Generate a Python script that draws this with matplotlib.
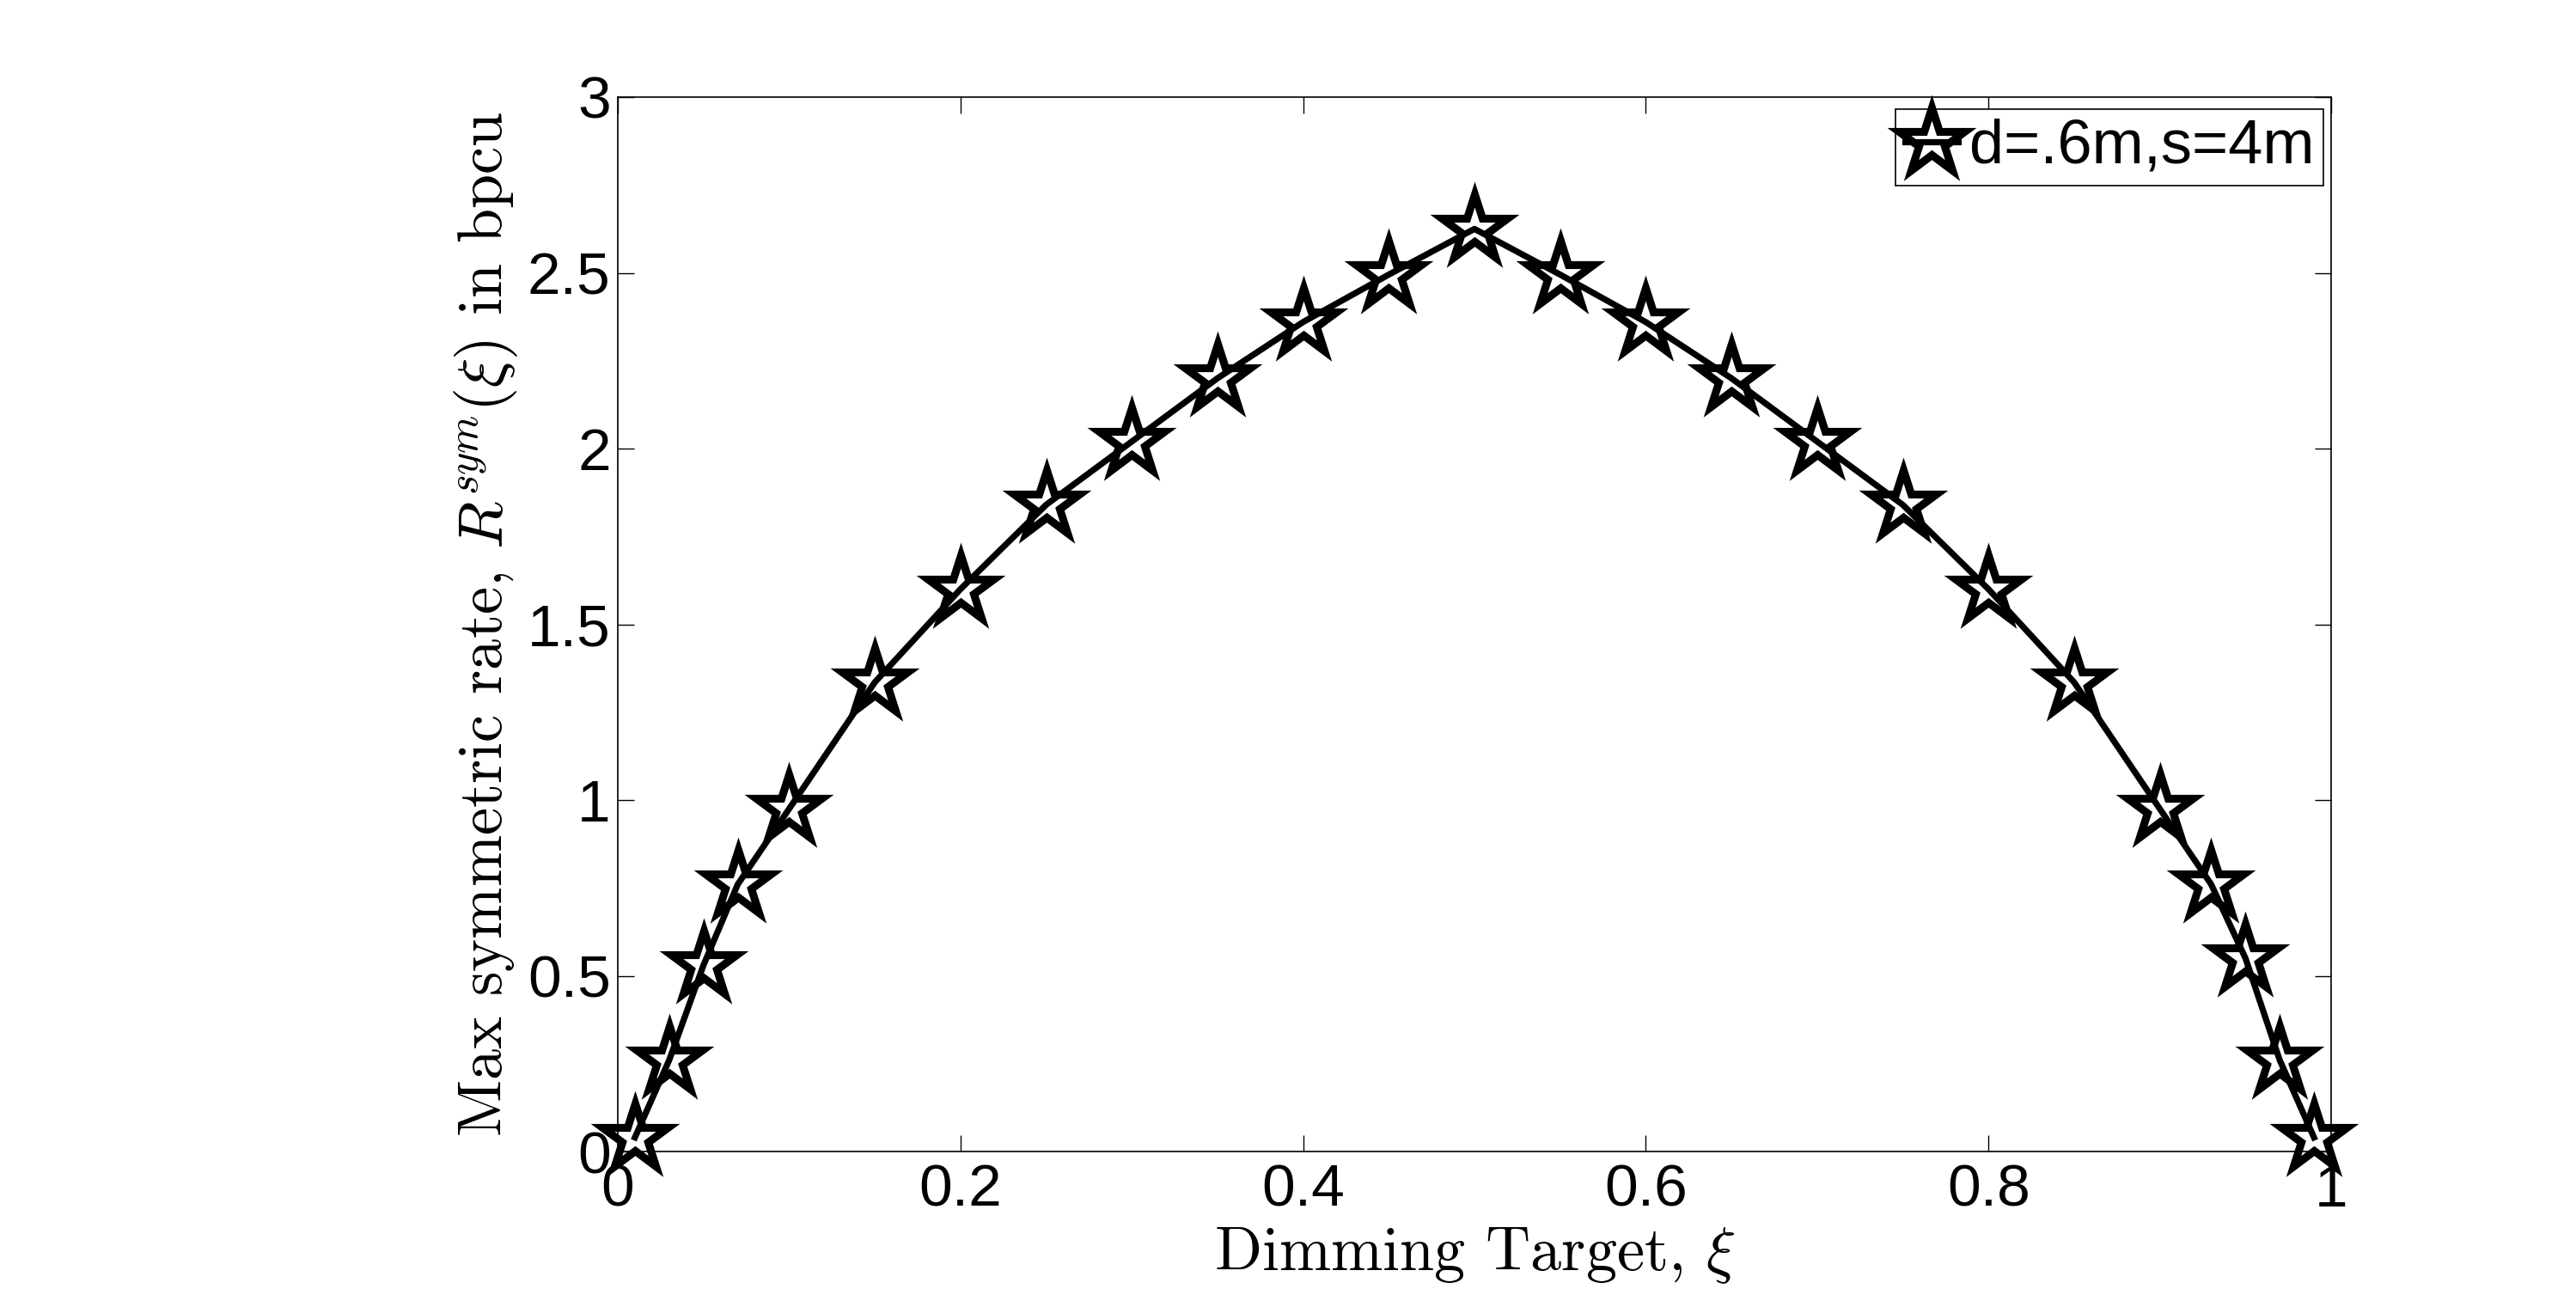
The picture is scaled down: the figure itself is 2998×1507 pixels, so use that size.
import matplotlib
matplotlib.use("Agg")
import matplotlib.pyplot as plt
from matplotlib.markers import MarkerStyle

# Data
dimming = [0.01, 0.03, 0.05, 0.07, 0.10, 0.15, 0.20, 0.25, 0.30, 0.35, 0.40, 0.45, 0.50,
           0.55, 0.60, 0.65, 0.70, 0.75, 0.80, 0.85, 0.90, 0.93, 0.95, 0.97, 0.99]
rate = [0.04, 0.26, 0.53, 0.76, 0.975, 1.335, 1.60, 1.84, 2.02, 2.20, 2.36, 2.495, 2.625,
        2.495, 2.36, 2.20, 2.02, 1.84, 1.60, 1.335, 0.975, 0.76, 0.55, 0.26, 0.04]
series_label = "d=.6m,s=4m"
xticks = [0, 0.2, 0.4, 0.6, 0.8, 1]
xticklabels = ["0", "0.2", "0.4", "0.6", "0.8", "1"]
yticks = [0, 0.5, 1, 1.5, 2, 2.5, 3]
yticklabels = ["0", "0.5", "1", "1.5", "2", "2.5", "3"]

plt.rcParams['mathtext.fontset'] = 'cm'
plt.rcParams['font.family'] = ['Liberation Sans', 'DejaVu Sans']

W, H, DPI = 2998, 1507, 200
fig = plt.figure(figsize=(W / DPI, H / DPI), dpi=DPI)
L, R, T, B = 719, 2713, 113, 1340
ax = fig.add_axes([L / W, 1 - B / H, (R - L) / W, (B - T) / H])

star = MarkerStyle('*', joinstyle='miter')
ax.plot(dimming, rate, color='black', linewidth=2.6, marker=star, markersize=29,
        markerfacecolor='none', markeredgecolor='black', markeredgewidth=3.3,
        label=series_label, clip_on=False, zorder=3)

ax.set_xlim(0, 1)
ax.set_ylim(0, 3)
ax.set_xticks(xticks)
ax.set_xticklabels(xticklabels)
ax.set_yticks(yticks)
ax.set_yticklabels(yticklabels)
ax.tick_params(direction='in', length=7, width=0.5, labelsize=25, top=True, right=True)
ax.tick_params(axis='x', pad=5)
ax.tick_params(axis='y', pad=3)
for s in ax.spines.values():
    s.set_linewidth(0.6)

ax.set_xlabel(r'Dimming Target, $\xi$', fontsize=26, family='cmr10', labelpad=3)
ax.set_ylabel(r'Max symmetric rate, $R^{sym}(\xi)$ in bpcu', fontsize=26,
              family='cmr10', labelpad=3)

leg = ax.legend(loc='upper right', bbox_to_anchor=(0.9955, 0.9886), fontsize=26,
                handlelength=0.85, handletextpad=0.18, borderpad=0.15, borderaxespad=0,
                fancybox=False, framealpha=1, edgecolor='black', numpoints=1)
leg.get_frame().set_linewidth(0.6)

fig.savefig('out.png', dpi=DPI, facecolor='white')
